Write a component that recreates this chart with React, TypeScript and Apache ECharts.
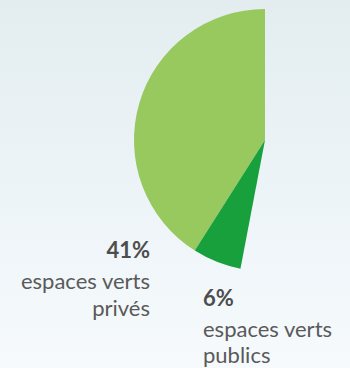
import React, { useEffect, useRef } from "react";
import * as echarts from "echarts";

const categories = ["espaces verts privés", "espaces verts publics", "autres"];
const values = [41, 6, 53];
const colors = ["#97C95F", "#18A03D", "transparent"];
const labelLines = [["espaces verts", "privés"], ["espaces verts", "publics"], []];
const labelAnchors = [
  { x: 150, y: 232, align: "right" },
  { x: 203, y: 279.5, align: "left" },
  { x: 0, y: 0, align: "left" },
];

export default function App() {
  const ref = useRef<HTMLDivElement>(null);
  useEffect(() => {
    document.body.style.margin = "0";
    const chart = echarts.init(ref.current!, null, { renderer: "svg" });
    chart.setOption({
      animation: false,
      backgroundColor: {
        type: "linear",
        x: 0,
        y: 0,
        x2: 0,
        y2: 1,
        colorStops: [
          { offset: 0, color: "#E3EDF0" },
          { offset: 1, color: "#F6FAFD" },
        ],
      },
      series: [
        {
          type: "pie",
          center: [265, 140],
          radius: [0, 131],
          startAngle: 90,
          clockwise: false,
          silent: true,
          labelLine: { show: false },
          label: {
            show: true,
            position: "inside",
            overflow: "none",
            fontFamily: "Lato",
            formatter: (p: any) => {
              const lines = labelLines[p.dataIndex];
              return `{p|${values[p.dataIndex]}%}\n` + lines.map((l) => `{n|${l}}`).join("\n");
            },
            rich: {
              p: { fontFamily: "Lato", fontWeight: "bold", fontSize: 22, color: "#4D4D4D", lineHeight: 35.6 },
              n: { fontFamily: "Lato", fontSize: 22, color: "#5A5A5A", lineHeight: 26.4 },
            },
          },
          labelLayout: (params: any) => {
            const a = labelAnchors[params.dataIndex];
            return { x: a.x, y: a.y, align: a.align, verticalAlign: "top" };
          },
          data: categories.map((name, i) => ({
            name,
            value: values[i],
            itemStyle: { color: colors[i] },
            label: { show: i < 2 },
          })),
        },
      ],
    });
    return () => chart.dispose();
  }, []);
  return <div ref={ref} style={{ position: "absolute", left: 0, top: 0, width: 350, height: 368 }} />;
}
